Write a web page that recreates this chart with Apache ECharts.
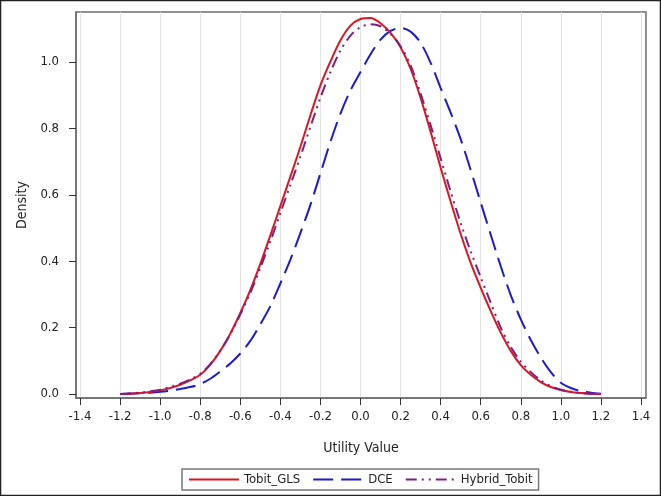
<!DOCTYPE html>
<html>
<head>
<meta charset="utf-8">
<script src="https://cdn.jsdelivr.net/npm/echarts@6/dist/echarts.min.js"></script>
<style>
  html, body { margin: 0; padding: 0; background: #fff; }
  #chart { width: 661px; height: 496px; }
</style>
</head>
<body>
<div id="chart"></div>
<script>
// Utility values (x) at which densities were read
const xValues = [-1.20,-1.15,-1.10,-1.05,-1.00,-0.95,-0.90,-0.85,-0.80,-0.75,-0.70,-0.65,-0.60,-0.55,-0.50,-0.45,-0.40,-0.35,-0.30,-0.25,-0.20,-0.15,-0.10,-0.05,0.00,0.05,0.10,0.15,0.20,0.25,0.30,0.35,0.40,0.45,0.50,0.55,0.60,0.65,0.70,0.75,0.80,0.85,0.90,0.95,1.00,1.05,1.10,1.15,1.20];
const tobitGLS = [0.000,0.001,0.003,0.006,0.011,0.018,0.028,0.041,0.058,0.088,0.130,0.182,0.244,0.313,0.392,0.478,0.566,0.655,0.745,0.840,0.930,1.002,1.066,1.110,1.130,1.133,1.117,1.088,1.045,0.980,0.892,0.790,0.682,0.580,0.482,0.395,0.320,0.250,0.185,0.130,0.087,0.058,0.036,0.021,0.012,0.006,0.003,0.001,0.000];
const dce = [0.000,0.001,0.002,0.004,0.007,0.010,0.015,0.021,0.030,0.046,0.068,0.092,0.122,0.160,0.210,0.265,0.333,0.405,0.485,0.570,0.665,0.760,0.845,0.915,0.970,1.024,1.068,1.094,1.103,1.092,1.058,0.998,0.922,0.848,0.768,0.675,0.577,0.480,0.385,0.298,0.225,0.163,0.110,0.066,0.034,0.018,0.009,0.004,0.001];
const hybridTobit = [0.000,0.002,0.004,0.008,0.013,0.021,0.031,0.044,0.061,0.090,0.130,0.180,0.240,0.305,0.380,0.460,0.545,0.630,0.715,0.805,0.893,0.970,1.035,1.080,1.105,1.114,1.108,1.085,1.048,0.990,0.905,0.810,0.710,0.610,0.515,0.430,0.352,0.275,0.200,0.142,0.097,0.066,0.041,0.024,0.013,0.007,0.003,0.001,0.000];
const seriesNames = ['Tobit_GLS', 'DCE', 'Hybrid_Tobit'];
const xTicks = [-1.4,-1.2,-1.0,-0.8,-0.6,-0.4,-0.2,0.0,0.2,0.4,0.6,0.8,1.0,1.2,1.4];
const yTicks = [0.0,0.2,0.4,0.6,0.8,1.0];

const pairs = arr => xValues.map((x, i) => [x, arr[i]]);
const FONT = "'Liberation Sans Narrow', 'DejaVu Sans Condensed', 'Open Sans', sans-serif";

const chart = echarts.init(document.getElementById('chart'), null, { renderer: 'canvas' });
chart.setOption({
  animation: false,
  backgroundColor: '#fff',
  grid: { left: 76, right: 15, top: 12, bottom: 98, show: true, borderColor: '#6e6e6e', borderWidth: 1.5, containLabel: false },
  xAxis: {
    type: 'value', min: -1.42, max: 1.425,
    name: 'Utility Value', nameLocation: 'middle', nameGap: 43,
    nameTextStyle: { fontFamily: FONT, fontSize: 14, color: '#222' },
    axisLine: { show: true, onZero: false, lineStyle: { color: '#6e6e6e', width: 1.5 } },
    axisTick: { show: true, length: 7, customValues: xTicks, lineStyle: { color: '#333' } },
    axisLabel: { customValues: xTicks, fontFamily: FONT, fontSize: 13, color: '#222', margin: 12,
      formatter: v => v.toFixed(1) },
    splitLine: { show: true, lineStyle: { color: '#e2e2e2', width: 1 } }
  },
  yAxis: {
    type: 'value', min: -0.012, max: 1.151,
    name: 'Density', nameLocation: 'middle', nameGap: 47, nameRotate: 90,
    nameTextStyle: { fontFamily: FONT, fontSize: 14, color: '#222' },
    axisLine: { show: true, onZero: false, lineStyle: { color: '#6e6e6e', width: 1.5 } },
    axisTick: { show: true, length: 7, customValues: yTicks, lineStyle: { color: '#333' } },
    axisLabel: { customValues: yTicks, fontFamily: FONT, fontSize: 13, color: '#222', margin: 17,
      formatter: v => v.toFixed(1) },
    splitLine: { show: false }
  },
  legend: {
    bottom: 6, left: 182,
    data: seriesNames,
    itemWidth: 50, itemHeight: 14, itemGap: 12,
    itemStyle: { opacity: 0 },
    borderColor: '#777', borderWidth: 1.5, padding: [4, 6],
    textStyle: { fontFamily: FONT, fontSize: 13, color: '#222' }
  },
  graphic: [{
    type: 'rect', shape: { x: 0.5, y: 0.5, width: 660, height: 495 },
    style: { fill: 'none', stroke: '#222', lineWidth: 1.5 }, silent: true, z: 100
  }],
  series: [
    { name: seriesNames[0], type: 'line', data: pairs(tobitGLS), smooth: 0.3, showSymbol: false, symbol: 'none',
      itemStyle: { color: '#e0141e' }, lineStyle: { color: '#e0141e', width: 2, type: 'solid' }, z: 3 },
    { name: seriesNames[1], type: 'line', data: pairs(dce), smooth: 0.3, showSymbol: false, symbol: 'none',
      itemStyle: { color: '#1a1ad0' }, lineStyle: { color: '#1a1ad0', width: 2, type: [20, 8] }, z: 2 },
    { name: seriesNames[2], type: 'line', data: pairs(hybridTobit), smooth: 0.3, showSymbol: false, symbol: 'none',
      itemStyle: { color: '#7d1f80' }, lineStyle: { color: '#7d1f80', width: 2, type: [11, 5, 2, 5, 2, 5] }, z: 4 }
  ]
});
</script>
</body>
</html>
